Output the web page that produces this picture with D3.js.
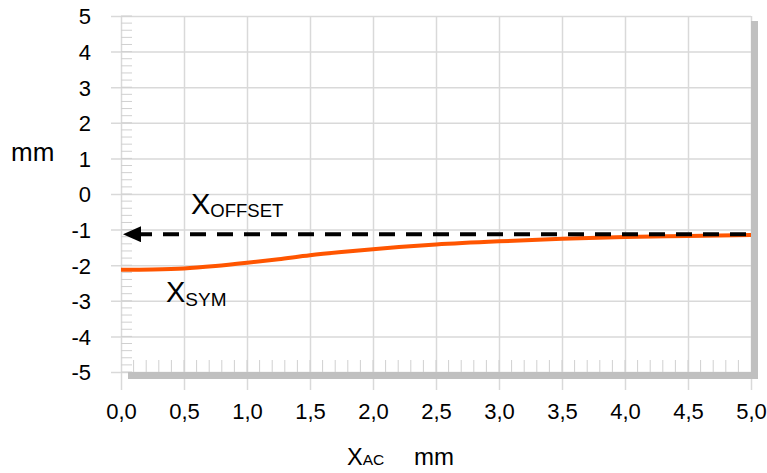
<!DOCTYPE html>
<html>
<head>
<meta charset="utf-8">
<script src="https://cdn.jsdelivr.net/npm/d3@7/dist/d3.min.js"></script>
<style>
  html, body { margin: 0; padding: 0; background: #fff; }
  svg { display: block; font-family: "Liberation Sans", Arial, sans-serif; }
</style>
</head>
<body>
<svg id="chart" width="767" height="473"></svg>
<script>
// ---- data ----
const xTicks = [0, 0.5, 1, 1.5, 2, 2.5, 3, 3.5, 4, 4.5, 5];
const yTicks = [-5, -4, -3, -2, -1, 0, 1, 2, 3, 4, 5];
const symX = [0, 0.25, 0.5, 0.75, 1.0, 1.25, 1.5, 1.75, 2.0, 2.5, 3.0, 3.5, 4.0, 4.5, 5.0];
const symY = [-2.13, -2.12, -2.09, -2.02, -1.93, -1.83, -1.72, -1.63, -1.55, -1.42, -1.33, -1.26, -1.21, -1.18, -1.15];
const offsetValue = -1.13;
const offsetRange = [5, 0];

// ---- layout ----
const svg = d3.select("#chart");
const L = 121, R = 751, T = 16, B = 372;
const x = d3.scaleLinear().domain([0, 5]).range([L, R]);
const y = d3.scaleLinear().domain([-5, 5]).range([B, T]);
const gridColor = "#d9d9d9";
const fmt = d => d.toFixed(1).replace(".", ",");

// y axis with gridlines
const gy = svg.append("g").attr("transform", `translate(111,0)`)
  .call(d3.axisLeft(y).tickValues(yTicks).tickSize(-(R - 111)).tickPadding(20).tickFormat(d => String(d)));
gy.select(".domain").remove();
gy.selectAll(".tick line").attr("stroke", gridColor).attr("stroke-width", 1.5);
gy.selectAll(".tick text").attr("font-size", 22).attr("fill", "#000")
  .attr("font-family", "Liberation Sans, Arial, sans-serif").attr("dy", "0.36em");

// x axis with gridlines
const gx = svg.append("g").attr("transform", `translate(0,${T})`)
  .call(d3.axisBottom(x).tickValues(xTicks).tickSize(390 - T).tickPadding(13).tickFormat(fmt));
gx.select(".domain").remove();
gx.selectAll(".tick line").attr("stroke", gridColor).attr("stroke-width", 1.5);
gx.selectAll(".tick text").attr("font-size", 22).attr("fill", "#000")
  .attr("font-family", "Liberation Sans, Arial, sans-serif");

// minor ticks
const yMinor = d3.range(-50, 51, 2).map(v => v / 10);
svg.append("g").selectAll("line").data(yMinor).join("line")
  .attr("x1", L).attr("x2", L + 11)
  .attr("y1", d => y(d)).attr("y2", d => y(d))
  .attr("stroke", "#d0d0d0").attr("stroke-width", 1);
const xMinor = d3.range(1, 50).map(v => v / 10);
svg.append("g").selectAll("line").data(xMinor).join("line")
  .attr("x1", d => x(d)).attr("x2", d => x(d))
  .attr("y1", B - 12).attr("y2", B)
  .attr("stroke", "#d0d0d0").attr("stroke-width", 1);

// shadow
svg.append("rect").attr("x", R).attr("y", T + 5).attr("width", 7).attr("height", B - T + 2)
  .attr("fill", "#c0c0c0");
svg.append("rect").attr("x", L + 7).attr("y", B).attr("width", R - L).attr("height", 7)
  .attr("fill", "#c0c0c0");

// X_SYM curve
const line = d3.line().x(d => x(d[0])).y(d => y(d[1])).curve(d3.curveMonotoneX);
svg.append("path").datum(symX.map((v, i) => [v, symY[i]]))
  .attr("d", line).attr("fill", "none").attr("stroke", "#ff5500").attr("stroke-width", 4);

// X_OFFSET dashed arrow
svg.append("defs").append("marker").attr("id", "arr")
  .attr("viewBox", "0 0 18 16").attr("refX", 0).attr("refY", 8)
  .attr("markerWidth", 18).attr("markerHeight", 16).attr("markerUnits", "userSpaceOnUse")
  .attr("orient", "auto-start-reverse")
  .append("path").attr("d", "M0,0 L18,8 L0,16 Z").attr("fill", "#000");
svg.append("line")
  .attr("x1", x(offsetRange[0]) - 5).attr("x2", x(offsetRange[1]) + 20)
  .attr("y1", y(offsetValue)).attr("y2", y(offsetValue))
  .attr("stroke", "#000").attr("stroke-width", 4).attr("stroke-dasharray", "16,11")
  .attr("marker-end", "url(#arr)");

// labels
function subLabel(xp, yp, main, sub, mainSize, subSize, subDy) {
  const t = svg.append("text").attr("x", xp).attr("y", yp).attr("fill", "#000");
  t.append("tspan").attr("font-size", mainSize).text(main);
  t.append("tspan").attr("font-size", subSize).attr("dy", subDy).text(sub);
  return t;
}
subLabel(191, 214, "X", "OFFSET", 29, 18.5, 3);
subLabel(166, 302, "X", "SYM", 29, 19, 4);
subLabel(347, 465, "X", "AC", 23.5, 15.5, 0);
svg.append("text").attr("x", 414).attr("y", 465).attr("font-size", 24).attr("fill", "#000").text("mm");
svg.append("text").attr("x", 11).attr("y", 161).attr("font-size", 26).attr("fill", "#000").text("mm");
</script>
</body>
</html>
